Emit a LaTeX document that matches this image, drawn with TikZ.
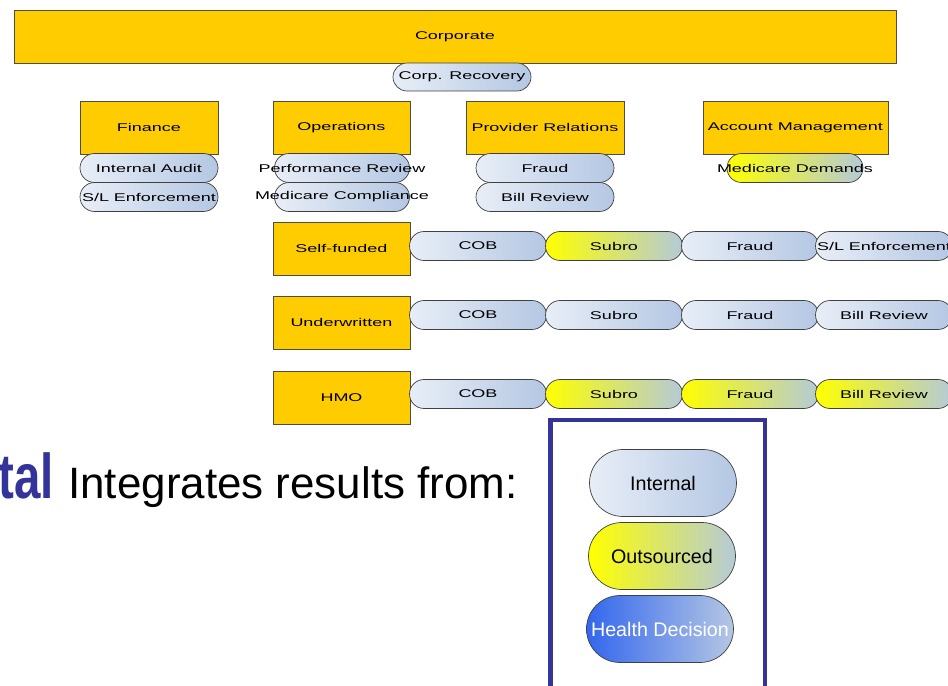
\documentclass[tikz,border=0pt]{standalone}
\usepackage{fontspec}
\setmainfont{Liberation Sans}
\newfontfamily\orgfont[FakeStretch=1.6]{Liberation Sans}
\newfontfamily\talfont[FakeStretch=0.75]{Liberation Sans}
\usetikzlibrary{shapes.misc}

\definecolor{unitgold}{HTML}{FFCC00}
\definecolor{ovlight}{HTML}{E8EEF7}
\definecolor{ovdark}{HTML}{B4C7E3}
\definecolor{ovyellow}{HTML}{FFFF00}
\definecolor{ovgray}{HTML}{B4CAD8}
\definecolor{ovblue}{HTML}{3366EE}
\definecolor{frameblue}{HTML}{333399}

\newcommand\wide[1]{\makebox[0pt]{#1}}

\tikzset{
    unit/.style={draw=black!70, fill=unitgold, minimum height=1.06cm,
        minimum width=2.74cm, inner sep=0pt,
        font=\orgfont\fontsize{6.4}{7.5}\selectfont},
    oval/.style={rounded rectangle, draw=black!75, minimum width=2.74cm,
        minimum height=0.58cm, inner sep=0pt, left color=ovlight,
        right color=ovdark, font=\orgfont\fontsize{6.4}{7.5}\selectfont},
    outsrc/.style={oval, left color=ovyellow, right color=ovgray},
    keyoval/.style={rounded rectangle, draw=black!75, minimum width=2.94cm,
        minimum height=1.34cm, inner sep=0pt, left color=ovlight,
        right color=ovdark, font=\fontsize{11.2}{13}\selectfont},
}

\begin{document}
\begin{tikzpicture}[x=0.02cm, y=-0.02cm]
        \useasboundingbox (0,0) rectangle (948,686);
        \clip (0,0) rectangle (948,686);

        % corporate level
        \node[unit, minimum width=17.64cm] (corp) at (455,36.5) {Corporate};
        \node[oval, minimum width=2.76cm, minimum height=0.56cm] (recov) at (462,77) {Corp. Recovery};

        % departments
        \node[unit, minimum width=2.76cm] (fin) at (149,127.5) {Finance};
        \node[unit] (ops) at (341.5,127.5) {Operations};
        \node[unit, minimum width=3.16cm] (prov) at (545,127.5) {Provider Relations};
        \node[unit, minimum width=3.7cm] (acct) at (795.5,127.5) {Account Management};

        \node[oval, minimum width=2.76cm] (audit) at (149,168) {Internal Audit};
        \node[oval, minimum width=2.76cm] (finslenf) at (149,197) {\wide{S/L Enforcement}};
        \node[oval, minimum width=2.7cm] (perf) at (342,168) {\wide{Performance Review}};
        \node[oval, minimum width=2.7cm] (mcomp) at (342,197) {\wide{Medicare Compliance}};
        \node[oval, minimum width=2.76cm] (provfraud) at (545,168) {Fraud};
        \node[oval, minimum width=2.76cm] (provbill) at (545,197) {Bill Review};
        \node[outsrc, minimum width=2.72cm] (mdem) at (795,168) {\wide{Medicare Demands}};

        % lines of business
        \node[unit] (self) at (341.5,248.5) {Self-funded};
        \node[oval] (selfcob) at (478,246) {COB};
        \node[outsrc] (selfsub) at (614,246) {Subro};
        \node[oval] (selffraud) at (750,246) {Fraud};
        \node[oval] (selfslenf) at (884,246) {\wide{S/L Enforcement}};

        \node[unit] (under) at (341.5,322.5) {Underwritten};
        \node[oval] (undcob) at (478,315) {COB};
        \node[oval] (undsub) at (614,315) {Subro};
        \node[oval] (undfraud) at (750,315) {Fraud};
        \node[oval] (undbill) at (884,315) {Bill Review};

        \node[unit] (hmo) at (341.5,397.5) {HMO};
        \node[oval] (hmocob) at (478,394) {COB};
        \node[outsrc] (hmosub) at (614,394) {Subro};
        \node[outsrc] (hmofraud) at (750,394) {Fraud};
        \node[outsrc] (hmobill) at (884,394) {Bill Review};

        % caption
        \node[anchor=base east, inner sep=0pt, text=frameblue,
            font=\talfont\bfseries\fontsize{36}{40}\selectfont] (tal) at (54,499) {tal};
        \node[anchor=base west, inner sep=0pt,
            font=\fontsize{25}{28}\selectfont] (integ) at (68,499) {Integrates results from:};

        % key
        \draw[frameblue, line width=2.8pt] (550.5,700) -- (550.5,420) -- (765,420) -- (765,700);
        \node[keyoval] (kint) at (663,483) {Internal};
        \node[keyoval, left color=ovyellow, right color=ovgray] (kout) at (662,556) {Outsourced};
        \node[keyoval, left color=ovblue, right color=ovdark,
            path picture={\node[white, font=\fontsize{11.2}{13}\selectfont]
                at (path picture bounding box.center) {Health Decision};}] (khd) at (660,629) {};
    \end{tikzpicture}
\end{document}
